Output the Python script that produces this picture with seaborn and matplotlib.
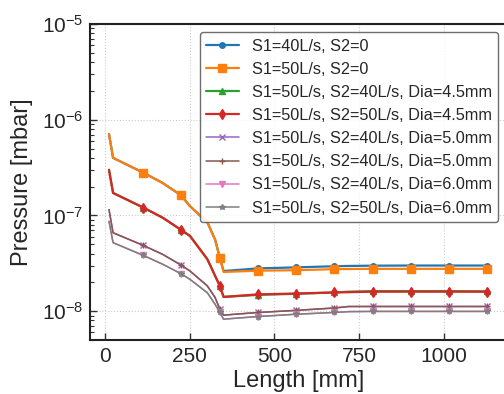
import numpy as np
import matplotlib
matplotlib.use("Agg")
import matplotlib.pyplot as plt
import seaborn as sns

# lengths along the beam line [mm]
length = [12, 24, 113, 170, 224, 251, 302, 325, 339, 350, 452, 564, 676, 720, 790, 902, 1015, 1128]
mark_idx = [2, 4, 8, 10, 11, 12, 14, 15, 16, 17]

# pressure per configuration [mbar]
p_s1_40 = [7.1e-7, 4.0e-7, 2.8e-7, 2.19e-7, 1.63e-7, 1.25e-7, 8.5e-8, 5.6e-8, 3.6e-8,
           2.63e-8, 2.8e-8, 2.87e-8, 2.95e-8, 2.97e-8, 2.99e-8, 3.0e-8, 3.0e-8, 3.0e-8]
p_s1_50 = [7.1e-7, 4.0e-7, 2.8e-7, 2.19e-7, 1.63e-7, 1.25e-7, 8.5e-8, 5.6e-8, 3.6e-8,
           2.57e-8, 2.65e-8, 2.68e-8, 2.75e-8, 2.76e-8, 2.77e-8, 2.77e-8, 2.77e-8, 2.77e-8]
p_40_45 = [3.0e-7, 1.72e-7, 1.21e-7, 9.5e-8, 7.1e-8, 6.1e-8, 3.5e-8, 2.34e-8, 1.84e-8,
           1.41e-8, 1.48e-8, 1.52e-8, 1.57e-8, 1.6e-8, 1.62e-8, 1.62e-8, 1.62e-8, 1.61e-8]
p_50_45 = [3.0e-7, 1.72e-7, 1.21e-7, 9.5e-8, 7.1e-8, 6.1e-8, 3.5e-8, 2.34e-8, 1.84e-8,
           1.41e-8, 1.5e-8, 1.53e-8, 1.57e-8, 1.58e-8, 1.6e-8, 1.6e-8, 1.6e-8, 1.6e-8]
p_40_50a = [1.15e-7, 6.6e-8, 4.87e-8, 3.93e-8, 3.04e-8, 2.63e-8, 1.84e-8, 1.39e-8, 1.05e-8,
            9.1e-9, 9.7e-9, 1.02e-8, 1.08e-8, 1.12e-8, 1.12e-8, 1.12e-8, 1.12e-8, 1.12e-8]
p_40_50b = [1.15e-7, 6.6e-8, 4.87e-8, 3.93e-8, 3.04e-8, 2.63e-8, 1.84e-8, 1.39e-8, 1.05e-8,
            9.1e-9, 9.7e-9, 1.02e-8, 1.08e-8, 1.12e-8, 1.12e-8, 1.12e-8, 1.12e-8, 1.12e-8]
p_40_60 = [8.7e-8, 5.2e-8, 3.83e-8, 3.1e-8, 2.47e-8, 2.15e-8, 1.56e-8, 1.18e-8, 9.7e-9,
           8.26e-9, 8.8e-9, 9.3e-9, 9.7e-9, 9.9e-9, 9.95e-9, 9.95e-9, 9.95e-9, 9.95e-9]
p_50_60 = [8.7e-8, 5.2e-8, 3.83e-8, 3.1e-8, 2.47e-8, 2.15e-8, 1.56e-8, 1.18e-8, 9.7e-9,
           8.26e-9, 8.8e-9, 9.3e-9, 9.7e-9, 9.9e-9, 9.95e-9, 9.95e-9, 9.95e-9, 9.95e-9]

labels = [
    "S1=40L/s, S2=0",
    "S1=50L/s, S2=0",
    "S1=50L/s, S2=40L/s, Dia=4.5mm",
    "S1=50L/s, S2=50L/s, Dia=4.5mm",
    "S1=50L/s, S2=40L/s, Dia=5.0mm",
    "S1=50L/s, S2=40L/s, Dia=5.0mm",
    "S1=50L/s, S2=40L/s, Dia=6.0mm",
    "S1=50L/s, S2=50L/s, Dia=6.0mm",
]
series = [p_s1_40, p_s1_50, p_40_45, p_50_45, p_40_50a, p_40_50b, p_40_60, p_50_60]

# marker, marker size, line width
styles = [("o", 4, 1.6), ("s", 5.5, 1.6), ("^", 4, 1.6), ("d", 5, 1.6),
          ("x", 4, 1.1), ("+", 4, 1.1), ("v", 4, 1.1), ("*", 4, 1.1)]

sns.set_theme(style="ticks")
plt.rcParams["font.family"] = ["Liberation Sans", "DejaVu Sans"]
plt.rcParams["mathtext.fontset"] = "custom"
plt.rcParams["mathtext.rm"] = "Liberation Sans"
plt.rcParams["mathtext.it"] = "Liberation Sans"

fig = plt.figure(figsize=(5.04, 3.94), dpi=100)
ax = fig.add_axes([0.1786, 0.137, 0.826, 0.802])

colors = sns.color_palette("tab10", 8)
for y, lab, c, (m, ms, lw) in zip(series, labels, colors, styles):
    sns.lineplot(x=length, y=y, ax=ax, color=c, label=lab, marker=m, markersize=ms,
                 markevery=mark_idx, linewidth=lw, mec=c, mew=1.0)

ax.set_yscale("log")
ax.set_ylim(5e-9, 1e-5)
ax.set_xlim(-44, 1184)
ax.set_xticks([0, 250, 500, 750, 1000])

ax.grid(True, which="major", linestyle=":", color="#cccccc", linewidth=0.8)
ax.tick_params(axis="both", which="major", direction="in", length=5, width=1,
               labelsize=15, pad=5, color="#333333")
ax.tick_params(axis="y", which="minor", direction="in", length=3, width=0.8, color="#333333")
for sp in ax.spines.values():
    sp.set_linewidth(1.5)
    sp.set_color("#222222")

ax.set_xlabel("Length [mm]", fontsize=17, labelpad=3)
ax.set_ylabel("Pressure [mbar]", fontsize=17, labelpad=6)

leg = ax.legend(loc="upper right", fontsize=11.7, frameon=True, fancybox=True,
                framealpha=0.85, edgecolor="#555555", borderaxespad=0.5)
leg.get_frame().set_linewidth(1.0)

fig.savefig("out.png", dpi=100)
